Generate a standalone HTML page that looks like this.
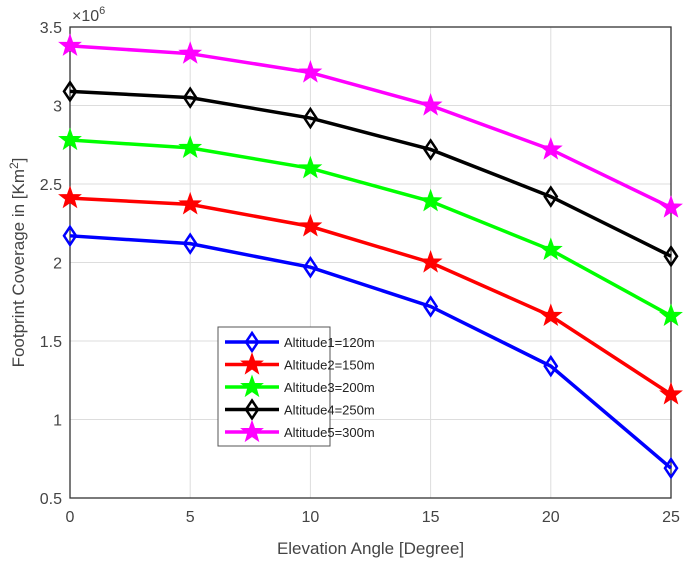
<!DOCTYPE html>
<html><head><meta charset="utf-8"><style>body{margin:0;background:#fff}svg{display:block;font-family:"Liberation Sans",sans-serif}</style></head>
<body>
<svg id="c" width="685" height="561"></svg>
<script>
const categories=[0,5,10,15,20,25];
const yTicks=[0.5,1,1.5,2,2.5,3,3.5];
const seriesNames=["Altitude1=120m","Altitude2=150m","Altitude3=200m","Altitude4=250m","Altitude5=300m"];
const alt1=[2.17,2.12,1.97,1.72,1.34,0.69];
const alt2=[2.41,2.37,2.23,2.00,1.66,1.16];
const alt3=[2.78,2.73,2.60,2.39,2.08,1.66];
const alt4=[3.09,3.05,2.92,2.72,2.42,2.04];
const alt5=[3.38,3.33,3.21,3.00,2.72,2.35];
const colors=["#0000ff","#ff0000","#00ff00","#000000","#ff00ff"];
const markers=["d","s","s","d","s"];
const NS="http://www.w3.org/2000/svg";
const svg=document.getElementById('c');
const L=70,R=671,T=27,B=498;
const xs=v=>L+(v-0)/25*(R-L);
const ys=v=>B-(v-0.5)/3*(B-T);
function el(t,a,p){const e=document.createElementNS(NS,t);for(const k in a)e.setAttribute(k,a[k]);(p||svg).appendChild(e);return e;}
el('rect',{x:L,y:T,width:R-L,height:B-T,fill:'#fff'});
categories.forEach(c=>{const g=el('line',{x1:xs(c),x2:xs(c),y1:T,y2:B,stroke:'#ddd','stroke-width':1});


const t=el('text',{x:xs(c),y:B+24,'text-anchor':'middle','font-size':16,fill:'#444'});t.textContent=c;

});
yTicks.forEach(v=>{const g=el('line',{x1:L,x2:R,y1:ys(v),y2:ys(v),stroke:'#ddd','stroke-width':1});


const t=el('text',{x:L-8,y:ys(v)+6,'text-anchor':'end','font-size':16,fill:'#444'});t.textContent=v;

});
el('rect',{x:L,y:T,width:R-L,height:B-T,fill:'none',stroke:'#333','stroke-width':1.3});
function marker(type,x,y,col,g){
 if(type==='d'){const p=el('polygon',{points:`${x},${y-9} ${x+6},${y} ${x},${y+9} ${x-6},${y}`,fill:'none',stroke:col,'stroke-width':2.5},g);return p;}
 let pts=[];for(let i=0;i<10;i++){const r=i%2?4.5:11;const a=-Math.PI/2+i*Math.PI/5;pts.push((x+r*Math.cos(a)).toFixed(1)+','+(y+r*Math.sin(a)).toFixed(1));}
 return el('polygon',{points:pts.join(' '),fill:col,stroke:col,'stroke-width':1},g);
}
const data=[alt1,alt2,alt3,alt4,alt5];
data.forEach((d,i)=>{const g=el('g',{});


const pl=el('polyline',{points:d.map((v,j)=>xs(categories[j])+','+ys(v)).join(' '),fill:'none',stroke:colors[i],'stroke-width':3.5},g);


d.forEach((v,j)=>{const m=marker(markers[i],xs(categories[j]),ys(v),colors[i],g);

});});
// legend
const lg=el('g',{});


el('rect',{x:218,y:327,width:112,height:119,fill:'#fff',stroke:'#555','stroke-width':1},lg);
seriesNames.forEach((n,i)=>{const y=342+i*22.5;
const e=el('g',{},lg);


el('line',{x1:225,x2:279,y1:y,y2:y,stroke:colors[i],'stroke-width':3.5},e);
marker(markers[i],252,y,colors[i],e);
const t=el('text',{x:284,y:y+5,'font-size':13,fill:'#222'},e);t.textContent=n;});
const ex=el('text',{x:L+2,y:T-6,'font-size':16,fill:'#444'});ex.innerHTML='×10<tspan dy="-7" font-size="11">6</tspan>';


const xt=el('text',{x:(L+R)/2,y:554,'text-anchor':'middle','font-size':17,fill:'#444'});xt.textContent='Elevation Angle [Degree]';


const yt=el('text',{x:0,y:0,'text-anchor':'middle','font-size':17,fill:'#444',transform:`translate(24,${(T+B)/2}) rotate(-90)`});yt.innerHTML='Footprint Coverage in [Km<tspan dy="-6" font-size="12">2</tspan><tspan dy="6">]</tspan>';


</script>
</body></html>
